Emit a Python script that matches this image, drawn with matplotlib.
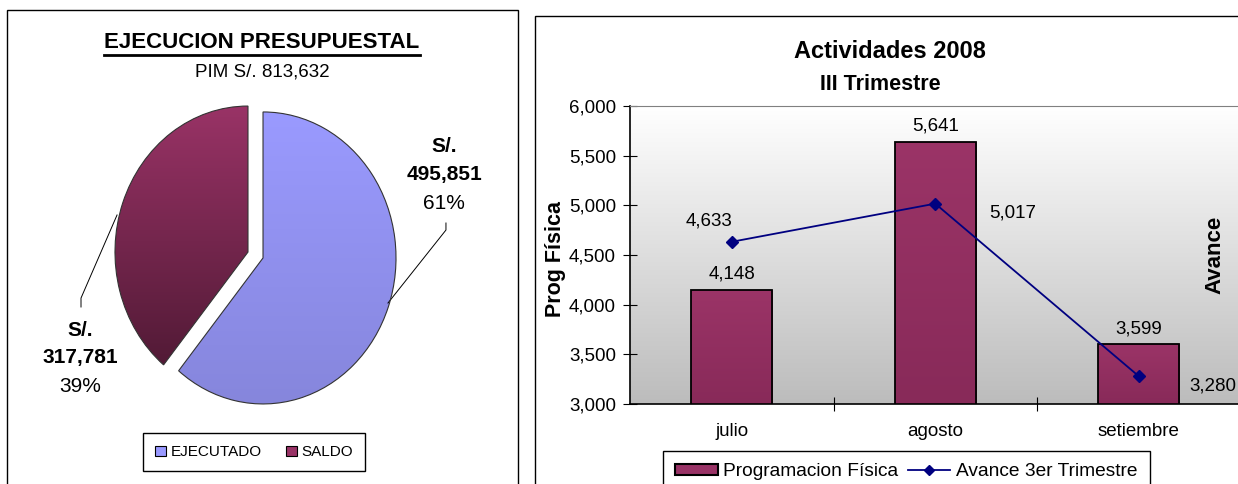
import numpy as np
import matplotlib
matplotlib.use("Agg")
import matplotlib.pyplot as plt
from matplotlib.patches import Patch, Rectangle
from matplotlib.lines import Line2D
from matplotlib.colors import LinearSegmentedColormap

plt.rcParams['font.family'] = ['Liberation Sans', 'DejaVu Sans']

# --- data: budget pie ---
pie_labels = ['EJECUTADO', 'SALDO']
pie_values = [495851, 317781]
pim_total = 813632

# --- data: activities 2008, III trimestre ---
meses = ['julio', 'agosto', 'setiembre']
prog_fisica = [4148, 5641, 3599]
avance = [4633, 5017, 3280]

W, H = 1238, 484
fig = plt.figure(figsize=(W / 100, H / 100), dpi=100)
fig.patch.set_facecolor('white')


def px(x, y, w, h):
    # pixel box with top-left origin -> figure fraction
    return [x / W, 1 - (y + h) / H, w / W, h / H]


def grad_fill(ax, patch, top, bottom, extent, z):
    cmap = LinearSegmentedColormap.from_list('g', [bottom, top])
    g = np.linspace(0, 1, 256).reshape(-1, 1)
    im = ax.imshow(g, extent=extent, origin='lower', cmap=cmap,
                   aspect='auto', zorder=z, interpolation='bilinear')
    im.set_clip_path(patch)
    return im


# panel frames
fig.add_artist(Rectangle((7 / W, -0.1), (518 - 7) / W, 1.1 - 10 / H,
                         transform=fig.transFigure, fill=False, lw=1, ec='black'))
fig.add_artist(Rectangle((535 / W, -0.1), 1.0, 1.1 - 16 / H,
                         transform=fig.transFigure, fill=False, lw=1, ec='black'))

# ---------------- left: pie ----------------
rx, ry = 133, 146
cx, cy = 255.5, 255
ax1 = fig.add_axes(px(cx - 1.25 * rx, cy - 1.25 * ry, 2.5 * rx, 2.5 * ry))
wedges, _ = ax1.pie(pie_values, explode=[0.06, 0.06], startangle=90,
                    counterclock=False,
                    wedgeprops=dict(edgecolor='#333333', linewidth=0.8))
ax1.set_aspect('auto')
pie_top = ['#9a9aff', '#993366']
pie_bot = ['#8686dc', '#521a36']
for w, t, b in zip(wedges, pie_top, pie_bot):
    w.set_facecolor('none')
    w.set_zorder(3)
    e = w.get_path().get_extents()
    grad_fill(ax1, w, t, b, [e.x0, e.x1, e.y0, e.y1], 2)
ax1.set_xlim(-1.25, 1.25)
ax1.set_ylim(-1.25, 1.25)

pcts = [v / sum(pie_values) * 100 for v in pie_values]
lab_pos = [(1.42, [0.74, 0.548, 0.356]), (-1.32, [-0.514, -0.705, -0.904])]
leaders = [([1.432, 1.432, 0.996], [0.219, 0.171, -0.329]),
           ([-1.041, -1.312, -1.312], [0.274, -0.295, -0.356])]
for v, p, (lx, ly), (lnx, lny) in zip(pie_values, pcts, lab_pos, leaders):
    ax1.text(lx, ly[0], 'S/.', ha='center', va='center', fontsize=15, fontweight='bold')
    ax1.text(lx, ly[1], f'{v:,}', ha='center', va='center', fontsize=15, fontweight='bold')
    ax1.text(lx, ly[2], f'{p:.0f}%', ha='center', va='center', fontsize=15)
    ax1.plot(lnx, lny, color='black', lw=0.7, clip_on=False)

t_title = fig.text(262 / W, 1 - 43 / H, 'EJECUCION PRESUPUESTAL', ha='center',
                   va='center', fontsize=16, fontweight='bold')
fig.text(262 / W, 1 - 72 / H, f'PIM S/. {pim_total:,}', ha='center', va='center',
         fontsize=13.5)

pie_handles = [Patch(facecolor=c, edgecolor='black', lw=0.8) for c in ['#9999ff', '#993366']]
fig.legend(pie_handles, pie_labels, loc='upper left', bbox_to_anchor=(143 / W, 1 - 433 / H),
           ncol=2, fontsize=11, frameon=True, fancybox=False, edgecolor='black',
           framealpha=1, handlelength=0.7, handleheight=0.7, handletextpad=0.3,
           columnspacing=1.6, borderpad=0.8, borderaxespad=0)

# ---------------- right: bars + line ----------------
ax2 = fig.add_axes(px(630, 106, 610.5, 298))
bg = LinearSegmentedColormap.from_list('bg', ['#bcbcbc', '#ffffff'])
ax2.imshow(np.linspace(0, 1, 256).reshape(-1, 1), extent=[0, 1, 0, 1], origin='lower',
           transform=ax2.transAxes, cmap=bg, aspect='auto', zorder=0)
x = np.arange(len(meses))
bars = ax2.bar(x, prog_fisica, width=0.4, facecolor='none', edgecolor='black',
               lw=1.3, zorder=3)
for r in bars:
    grad_fill(ax2, r, '#9b3467', '#882a59',
              [r.get_x(), r.get_x() + r.get_width(), 3000, r.get_height()], 2)
ax2.plot(x, avance, color='#000080', lw=1.3, marker='D', markersize=6, zorder=4)
ax2.set_xlim(-0.5, 2.5)
ax2.set_ylim(3000, 6000)

for xi, v in zip(x, prog_fisica):
    ax2.annotate(f'{v:,}', (xi, v), xytext=(0, 11.5), textcoords='offset points',
                 ha='center', va='center', fontsize=13.5)
line_off = [(-16.5, 15), (56, -7), (53, -7)]
for xi, v, off in zip(x, avance, line_off):
    ax2.annotate(f'{v:,}', (xi, v), xytext=off, textcoords='offset points',
                 ha='center', va='center', fontsize=13.5, annotation_clip=False)

ax2.set_yticks(np.arange(3000, 6001, 500))
ax2.set_yticklabels([f'{t:,}' for t in range(3000, 6001, 500)], fontsize=13.5)
ax2.set_xticks(x)
ax2.set_xticklabels(meses, fontsize=13.5)
ax2.set_xticks([0.5, 1.5, 2.5], minor=True)
ax2.tick_params(axis='x', which='major', length=0, pad=14)
ax2.tick_params(axis='x', which='minor', direction='inout', length=10, width=0.8)
ax2.tick_params(axis='y', direction='inout', length=10, width=0.8, pad=5)
for s in ['left', 'bottom']:
    ax2.spines[s].set_color('black')
    ax2.spines[s].set_linewidth(1.2)
ax2.spines['top'].set_color('#808080')
ax2.spines['right'].set_visible(False)

fig.text(890 / W, 1 - 52 / H, 'Actividades 2008', ha='center', va='center',
         fontsize=17, fontweight='bold')
fig.text(880 / W, 1 - 85 / H, 'III Trimestre', ha='center', va='center',
         fontsize=15.5, fontweight='bold')
fig.text(555 / W, 1 - 259 / H, 'Prog Física', rotation=90, ha='center', va='center',
         fontsize=15.5, fontweight='bold')
fig.text(1215 / W, 1 - 255 / H, 'Avance', rotation=90, ha='center', va='center',
         fontsize=16, fontweight='bold')

bar_handles = [Patch(facecolor='#993366', edgecolor='black', lw=1.5),
               Line2D([], [], color='#000080', lw=1.3, marker='D', markersize=5)]
fig.legend(bar_handles, ['Programacion Física', 'Avance 3er Trimestre'], loc='upper left',
           bbox_to_anchor=(663 / W, 1 - 451 / H), ncol=2, fontsize=13.8, frameon=True,
           fancybox=False, edgecolor='black', framealpha=1, handlelength=2.2,
           handleheight=0.55, handletextpad=0.3, columnspacing=0.5, borderpad=0.65,
           borderaxespad=0)

# underline for the pie title
fig.canvas.draw()
bb = t_title.get_window_extent()
fig.add_artist(Line2D([bb.x0 / W, bb.x1 / W], [(bb.y0 - 1) / H] * 2,
                      transform=fig.transFigure, color='black', lw=2))

fig.savefig('out.png', dpi=100)
